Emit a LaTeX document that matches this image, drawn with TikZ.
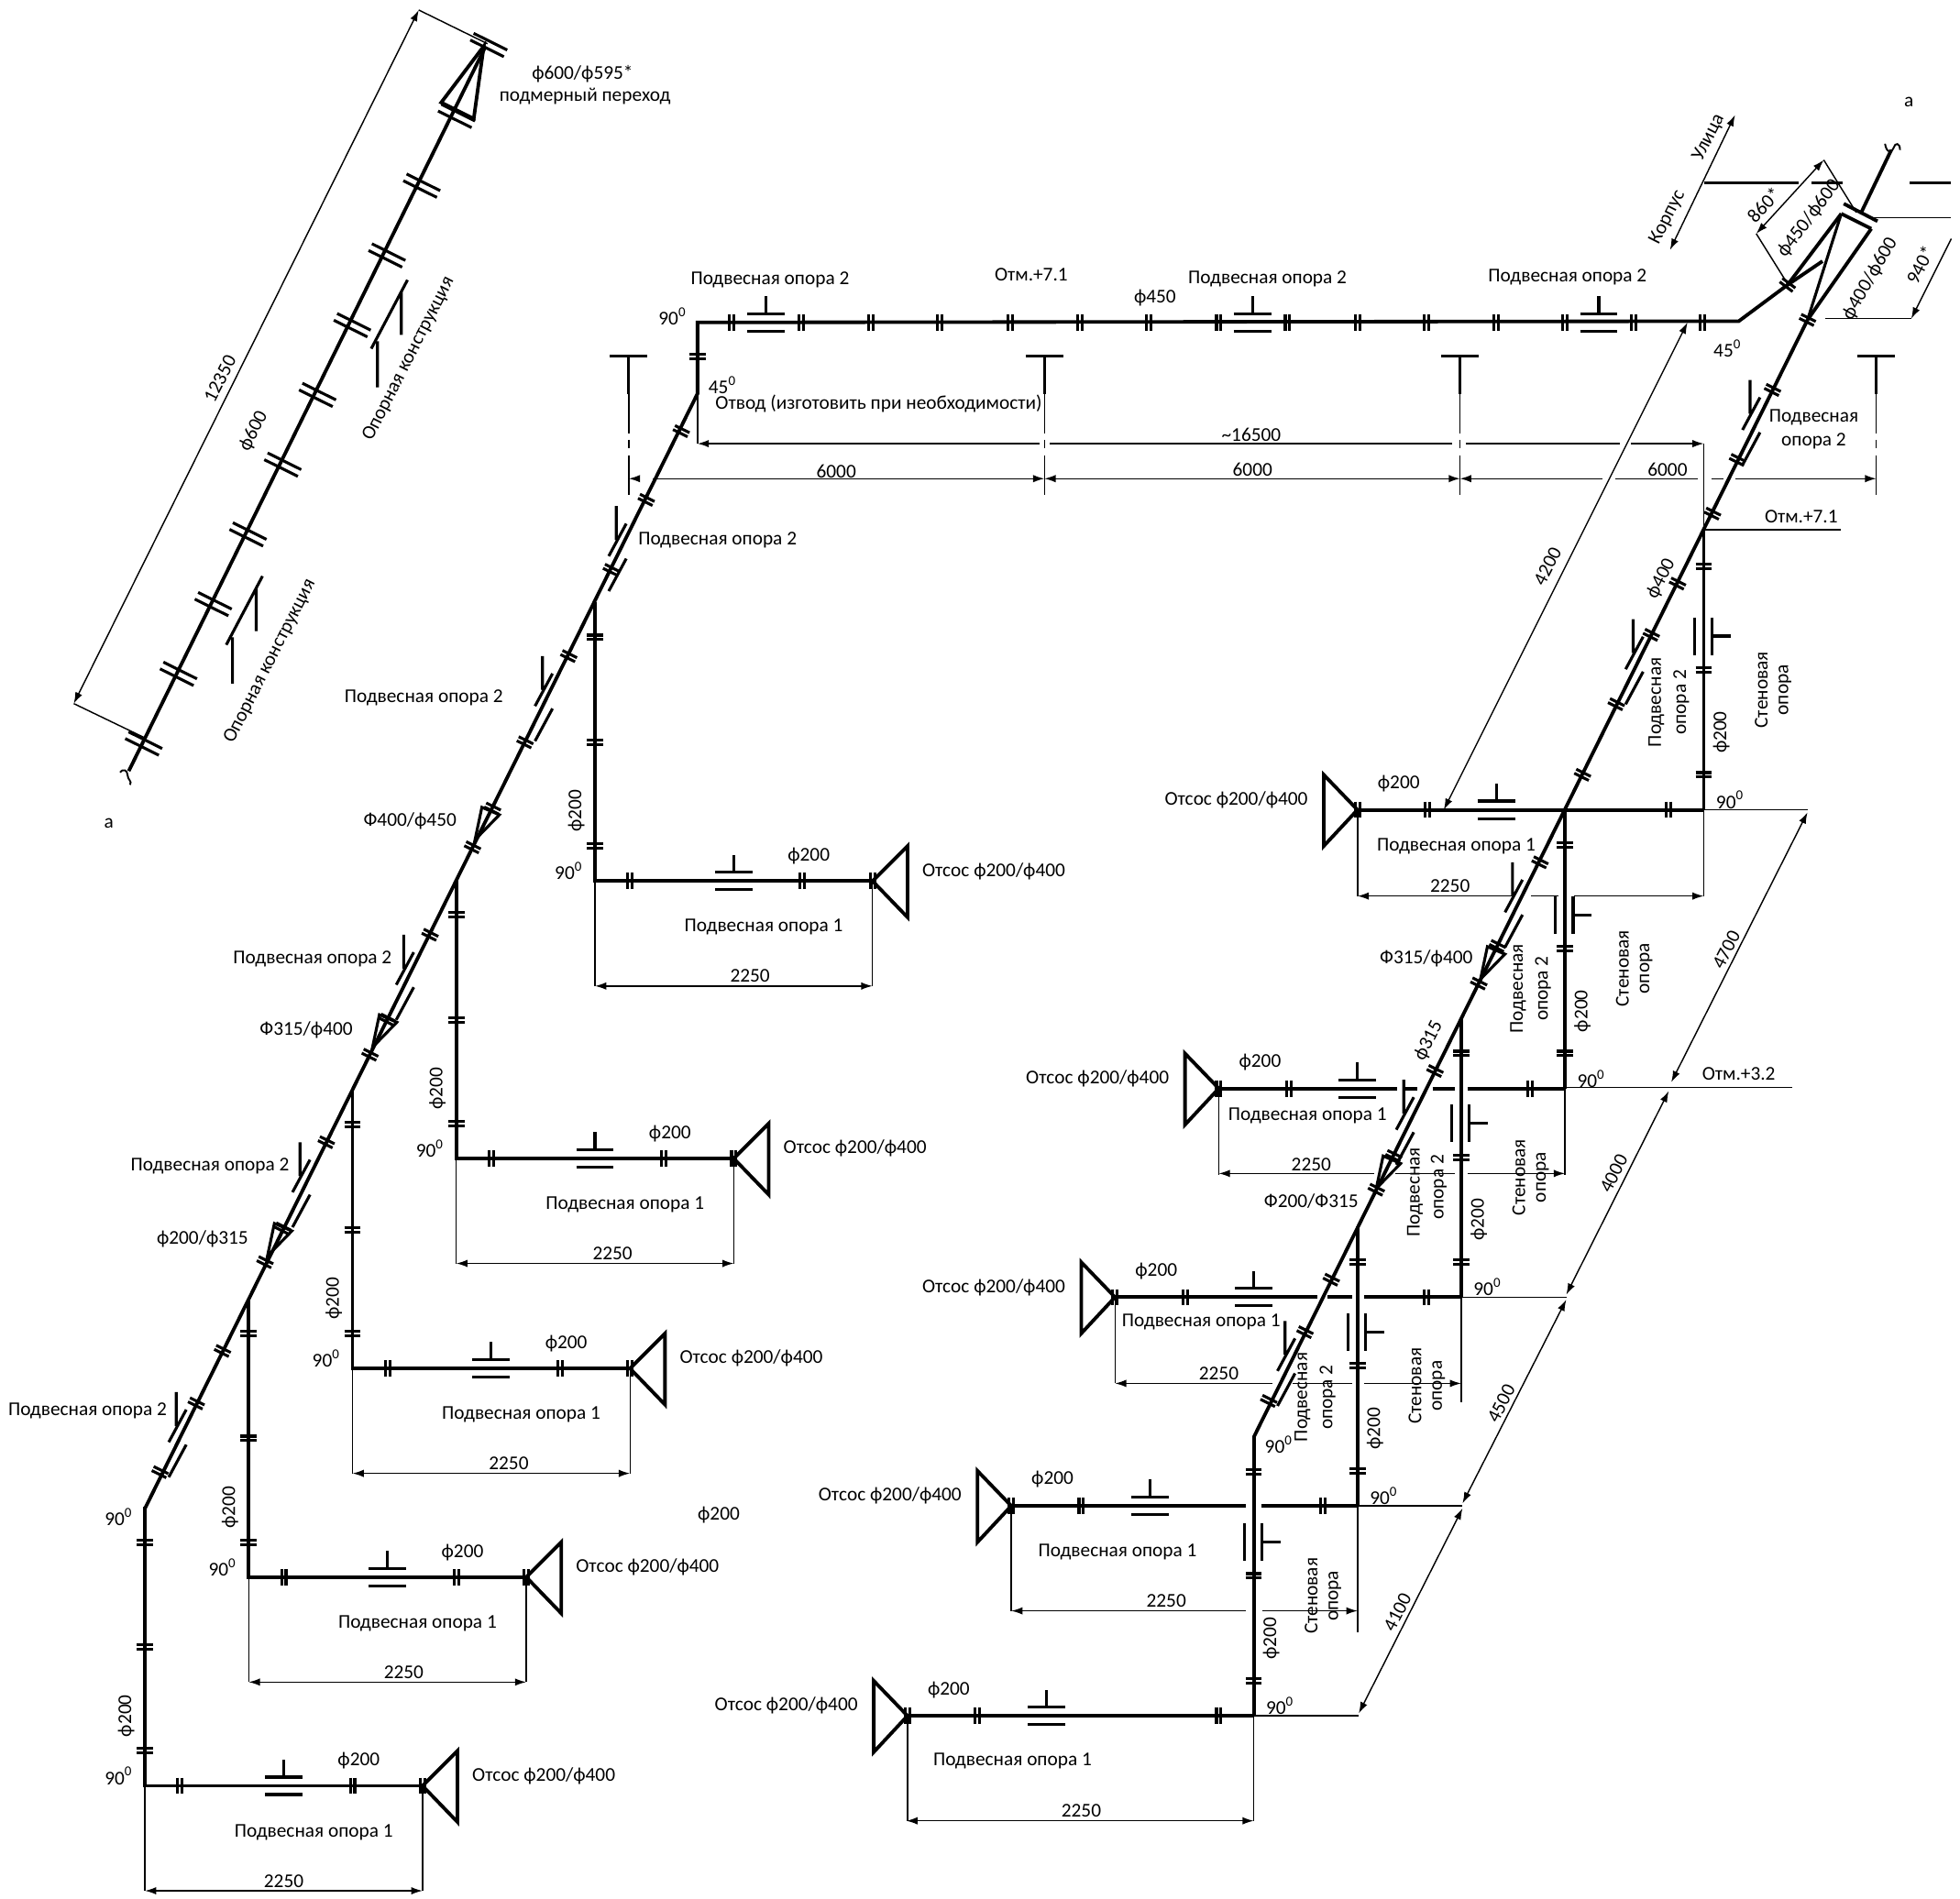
\documentclass[tikz,border=0pt]{standalone}
\usepackage{fontspec}
\setmainfont{Carlito}
\usetikzlibrary{arrows.meta}
\tikzset{
    pipe/.style={line width=1.6pt},
    barline/.style={line width=1.3pt},
    thinline/.style={line width=0.6pt},
    curl/.style={line width=0.8pt},
    lbl/.style={font=\fontsize{8.9}{10}\selectfont,inner sep=0pt,yshift=-0.6pt},
    onslope/.style={rotate=63.6},
    flange/.pic={\draw[barline] (-1.8,-6.5) -- (-1.8,6.5) (1.8,-6.5) -- (1.8,6.5);},
    bigflange/.pic={\draw[barline] (-3,-15) -- (-3,15) (3,-15) -- (3,15);},
    teesup/.pic={\draw[barline] (-15,-7) -- (15,-7) (-15,7) -- (15,7) (0,-7) -- (0,-21);},
    hanger/.pic={\draw[barline] (-7,-1) -- (7,-27) (-7,27) -- (7,1) (-1,-14) -- (-1,-41);},
    wallsup/.pic={\draw[barline] (-7.5,-15) -- (-7.5,15) (6.5,-15) -- (6.5,15) (6.5,0) -- (21.5,0);},
    reducer/.pic={\draw[barline] (0,0) -- (5.5,-26) -- (19.5,-20) -- cycle;},
    secmark/.pic={\draw[barline] (-15,0) -- (15,0) (0,0) -- (0,30);
        \draw[thinline,dash pattern=on 18pt off 3pt on 4pt off 3pt] (0,30) -- (0,112);},
}
\begin{document}
\begin{tikzpicture}[x=0.02cm,y=-0.02cm,>={Latex[length=1.8mm,width=1.2mm]}]
    \useasboundingbox (0,0) rectangle (1568,1519);

    % Upper pipe f600
    \draw[pipe] (103,617) -- (388,38);
    \foreach \k in {0,...,9}
        \pic[onslope] at ({115+27.8*\k},{595-55.8*\k}) {bigflange};
    \pic[onslope] at (391,36) {bigflange};
    \draw[pipe] (387,37) -- (353,82) -- (379,95) -- cycle;
    \draw[curl] (96,618) .. controls (98,615) and (102,616) .. (102,620)
        .. controls (102,624) and (106,625) .. (104,628);
    \draw[thinline,<->] (59,563) -- (335,8);
    \draw[thinline] (59,563) -- (115,590) (335,8) -- (390,35);
    \foreach \sx/\sy in {0/0,116/-237} {
        \draw[barline] (181+\sx,516+\sy) -- (210+\sx,461+\sy)
            (205+\sx,470+\sy) -- (205+\sx,505+\sy) (186+\sx,510+\sy) -- (186+\sx,547+\sy);
    }
    \node[lbl,rotate=63] (dimA) at (176,302) {12350};
    \node[lbl,rotate=63] (diaA) at (203,344) {ф600};
    \node[lbl,rotate=63] (konA) at (216,528) {Опорная конструкция};
    \node[lbl,rotate=63] (konB) at (327,286) {Опорная конструкция};
    \node[lbl] (diaB) at (466,58) {ф600/ф595*};
    \node[lbl] (podm) at (468,76) {подмерный переход};
    \node[lbl] (markA) at (87,658) {а};

    % Left run with the top line
    \draw[pipe] (116,1207) -- (558,315) -- (558,258) -- (1391,257) -- (1430,228) -- (1458,209);
    \foreach \x/\y in {128/1178,157/1123,178/1081,212/1010,226/983,261/914,296/844,310/816,344/748,
        378/678,394/647,420/594,455/525,489/456,517/400,545/345}
        \pic[onslope] at (\x,\y) {flange};
    \foreach \x/\y in {142/1155,241/955,324/789,435/566,494/446}
        \pic at (\x,\y) {hanger};
    \foreach \x/\y in {214/1005,298/838,380/672}
        \pic at (\x,\y) {reducer};
    \pic[rotate=90] at (558,285) {flange};
    \foreach \x in {585,641,697,752,808,864,919,975,1030,1086,1141,1197,1252,1307,1362}
        \pic at (\x,258) {flange};
    \foreach \x in {613,1002,1279}
        \pic at (\x,258) {teesup};
    \foreach \x [count=\i] in {503,835.5,1168,1501}
        \pic at (\x,285) {secmark};

    % Left branches
    \foreach \cx/\cy/\lx in {116/1429/111,199/1262/124,282/1095/125,365/927/125,476/705/124} {
        \begin{scope}[shift={(\cx,\cy)}]
            \draw[pipe] (0,-223) -- (0,0) -- (222,0);
            \foreach \f in {-28,-111,-195}
                \pic[rotate=90] at (0,\f) {flange};
            \foreach \f in {28,166,222}
                \pic at (\f,0) {flange};
            \pic at (111,0) {teesup};
            \draw[pipe] (222,0) -- (250,-28) -- (250,29) -- cycle;
            \draw[thinline] (0,0) -- (0,84) (222,0) -- (222,84);
            \draw[thinline,<->] (0,84) -- (222,84);
            \node[lbl] (otsL\cx) at (319,-9) {Отсос ф200/ф400};
            \node[lbl] (podL\cx) at (135,36) {Подвесная опора 1};
            \node[lbl] (diaL\cx) at (171,-21) {ф200};
            \node[lbl] (dimL\cx) at (\lx,75) {2250};
            \node[lbl,rotate=90] (risL\cx) at (-15,-57) {ф200};
            \node[lbl] (angL\cx) at (-21,-9) {90\textsuperscript{0}};
        \end{scope}
    }

    % Right run
    \draw[pipe] (1003,1150) -- (1446,256);
    \foreach \x/\y in {1015/1121,1044/1066,1065/1024,1101/952,1115/925,1148/857,1183/787,1198/757,1232/690,
        1266/620,1293/563.5,1321/508,1342/467,1370/411,1390/368,1418/312,1446/256}
        \pic[onslope] at (\x,\y) {flange};
    \foreach \x/\y in {1029/1098,1124/905,1211/731,1307.5/536.5,1401/345}
        \pic at (\x,\y) {hanger};
    \foreach \x/\y in {1101/951,1184.4/783.5}
        \pic at (\x,\y) {reducer};

    % Right branches
    \draw[pipe] (726,1373) -- (1003,1373);
    \draw[pipe] (809,1205) -- (997,1205) (1009,1205) -- (1086,1205);
    \draw[pipe] (892,1038) -- (1054,1038) (1062,1038) -- (1082,1038) (1091,1038) -- (1169,1038);
    \draw[pipe] (975,871) -- (1118,871) (1123,871) -- (1134,871) (1146,871) -- (1164,871) (1174,871) -- (1252,871);
    \draw[pipe] (1086,648) -- (1363,648);
    \foreach \cx/\cy/\dy/\px/\py/\ext/\lx in {1003/1373/84/84/35/0/865,1086/1205/84/85/36/17/933,
        1169/1038/69/69/19/15/975,1252/871/69/71/21/0/1049,1363/648/69/79/28/0/1160} {
        \begin{scope}[shift={(\cx,\cy)}]
            \draw[pipe] (0,0) -- (0,-223.5);
            \foreach \f in {-28,-112,-195}
                \pic[rotate=90] at (0,\f) {flange};
            \foreach \f in {-277,-221,-28}
                \pic at (\f,0) {flange};
            \pic at (-166,0) {teesup};
            \pic at (0,-139) {wallsup};
            \draw[pipe] (-277,0) -- (-304,-28) -- (-304,29) -- cycle;
            \draw[thinline] (-277,0) -- (-277,\dy) (0,0) -- (0,{\dy+\ext});
            \node[lbl] (otsR\cx) at (-374,-9) {Отсос ф200/ф400};
            \node[lbl] (podR\cx) at ({-277+\px},\py) {Подвесная опора 1};
            \node[lbl] (diaR\cx) at (-244,-22) {ф200};
            \node[lbl] (dimR\cx) at ({\lx-\cx},{\dy-9}) {2250};
            \node[lbl,rotate=90] (risR\cx) at (14,-63) {ф200};
            \node[lbl] (angR\cx) at (21,-9) {90\textsuperscript{0}};
            \node[lbl,rotate=90] (wallA\cx) at (46,-97) {Стеновая};
            \node[lbl,rotate=90] (wallB\cx) at (65,-97) {опора};
        \end{scope}
    }

    % Branch dimensions
    \draw[thinline,<->] (725,1457) -- (1003,1457);
    \draw[thinline,<-] (809,1289) -- (997,1289);
    \draw[thinline,->] (1010,1289) -- (1086,1289);
    \draw[thinline,<-] (892,1107) -- (1018,1107);
    \draw[thinline] (1034,1107) -- (1082,1107);
    \draw[thinline,->] (1091,1107) -- (1169,1107);
    \draw[thinline,<-] (975,939) -- (1099,939);
    \draw[thinline] (1116,939) -- (1164,939);
    \draw[thinline,->] (1174,939) -- (1252,939);
    \draw[thinline,<-] (1086,717) -- (1209,717);
    \draw[thinline] (1225,717) -- (1247,717);
    \draw[thinline,->] (1259,717) -- (1363,717);

    % Level lines and slanted dimensions
    \draw[thinline] (1003,1373) -- (1087,1373) (1086,1205) -- (1170,1205) (1169,1038) -- (1253,1038);
    \draw[thinline] (1252,870) -- (1434,870) (1363,648) -- (1446,648);
    \draw[thinline] (1363,355) -- (1363,424) -- (1473,424);
    \draw[thinline] (558,315) -- (558,355);
    \draw[thinline,<->] (1087,1371) -- (1170,1207);
    \draw[thinline,<->] (1170,1203) -- (1253,1040);
    \draw[thinline,<->] (1253,1036) -- (1335,873);
    \draw[thinline,<->] (1337,866) -- (1446,650);
    \draw[thinline,<->] (1350,258) -- (1155,648);

    % Top dimensions
    \draw[thinline,<-] (558,355) -- (832,355);
    \draw[thinline] (840,355) -- (1162,355) (1173,355) -- (1296,355);
    \draw[thinline,->] (1305,355) -- (1363,355);
    \draw[thinline,<-] (503,383) -- (511,383);
    \draw[thinline,->] (522,383) -- (835.5,383);
    \draw[thinline,<->] (835.5,383) -- (1168,383);
    \draw[thinline,<-] (1168,383) -- (1282,383);
    \draw[thinline] (1292,383) -- (1358,383) (1369,383) -- (1379,383);
    \draw[thinline,->] (1388,383) -- (1501,383);

    % Transition at the top right
    \draw[pipe] (1446,256) -- (1497,183) (1473,171) -- (1430,228);
    \draw[barline] (1473,171) -- (1446,256);
    \draw[pipe] (1475,163) -- (1502,177) (1473,171) -- (1497,183);
    \pic[rotate=53] at (1430,228) {flange};
    \draw[pipe] (1489,170) -- (1513,120);
    \draw[curl] (1508,115) .. controls (1509,122) and (1513,123) .. (1515,118)
        .. controls (1516,114) and (1520,114) .. (1520,120);
    \draw[thinline,<->] (1459,128) -- (1405,187);
    \draw[thinline] (1459,128) -- (1485,170) (1405,187) -- (1430,227);
    \draw[thinline,->] (1561,191) -- (1529,255);
    \draw[thinline] (1498,174) -- (1561,174) (1460,255) -- (1529,255);
    \draw[thinline,<->] (1388,92) -- (1336,200);
    \draw[barline] (1363,146) -- (1439,146) (1449,146) -- (1474,146) (1528,146) -- (1561,146);

    % Texts of the top line
    \foreach \x/\y [count=\i] in {616/223,1014/222,1254/221,574/431,339/557,250/766,168/932,70/1128}
        \node[lbl] (hangT\i) at (\x,\y) {Подвесная опора 2};
    \node[lbl] (levA) at (825,219) {Отм.+7.1};
    \node[lbl] (diaC) at (924,237) {ф450};
    \node[lbl] (angA) at (538,252) {90\textsuperscript{0}};
    \node[lbl] (angB) at (578,307) {45\textsuperscript{0}};
    \node[lbl] (angC) at (1382,278) {45\textsuperscript{0}};
    \node[lbl] (angD) at (95,1213) {90\textsuperscript{0}};
    \node[lbl] (angE) at (1023,1155) {90\textsuperscript{0}};
    \node[lbl] (otvod) at (703,322) {Отвод (изготовить при необходимости)};
    \node[lbl] (dimB) at (1001,347) {\textasciitilde 16500};
    \foreach \x/\y [count=\i] in {669/376,1002/375,1334/375}
        \node[lbl] (dimS\i) at (\x,\y) {6000};
    \node[lbl] (redA) at (328,656) {Ф400/ф450};
    \node[lbl] (redB) at (245,823) {Ф315/ф400};
    \node[lbl] (redC) at (162,990) {ф200/ф315};
    \node[lbl] (diaD) at (575,1211) {ф200};
    \node[lbl] (redD) at (1141,766) {Ф315/ф400};
    \node[lbl] (redE) at (1049,960) {Ф200/Ф315};
    \node[lbl] (levB) at (1441,412) {Отм.+7.1};
    \node[lbl] (levC) at (1391,858) {Отм.+3.2};
    \node[lbl] (hangU) at (1451,333) {Подвесная};
    \node[lbl] (hangV) at (1451,352) {опора 2};
    \foreach \x/\y [count=\i] in {1325/561,1214.5/790,1132/953,1042/1117}
        \node[lbl,rotate=90] (hangW\i) at (\x,\y) {Подвесная};
    \foreach \x/\y [count=\i] in {1345/561,1234.5/790,1151/949,1062/1117}
        \node[lbl,rotate=90] (hangX\i) at (\x,\y) {опора 2};
    \node[lbl,rotate=63] (diaE) at (1329,462) {ф400};
    \node[lbl,rotate=63] (diaF) at (1143,832) {ф315};
    \node[lbl,rotate=63] (dimC) at (1238,452) {4200};
    \node[lbl,rotate=63] (dimD) at (1381,759) {4700};
    \node[lbl,rotate=63] (dimE) at (1291,938) {4000};
    \node[lbl,rotate=63] (dimF) at (1201,1122) {4500};
    \node[lbl,rotate=63] (dimG) at (1118,1289) {4100};
    \node[lbl,rotate=63] (strA) at (1367,109) {Улица};
    \node[lbl,rotate=63] (strB) at (1334,173) {Корпус};
    \node[lbl,rotate=47] (dimH) at (1411,163) {860*};
    \node[lbl,rotate=53] (redF) at (1447,174) {ф450/ф600};
    \node[lbl,rotate=60] (redG) at (1496,222) {ф400/ф600};
    \node[lbl,rotate=63] (dimI) at (1536,211) {940*};
    \node[lbl] (markB) at (1527,81) {а};
\end{tikzpicture}
\end{document}
